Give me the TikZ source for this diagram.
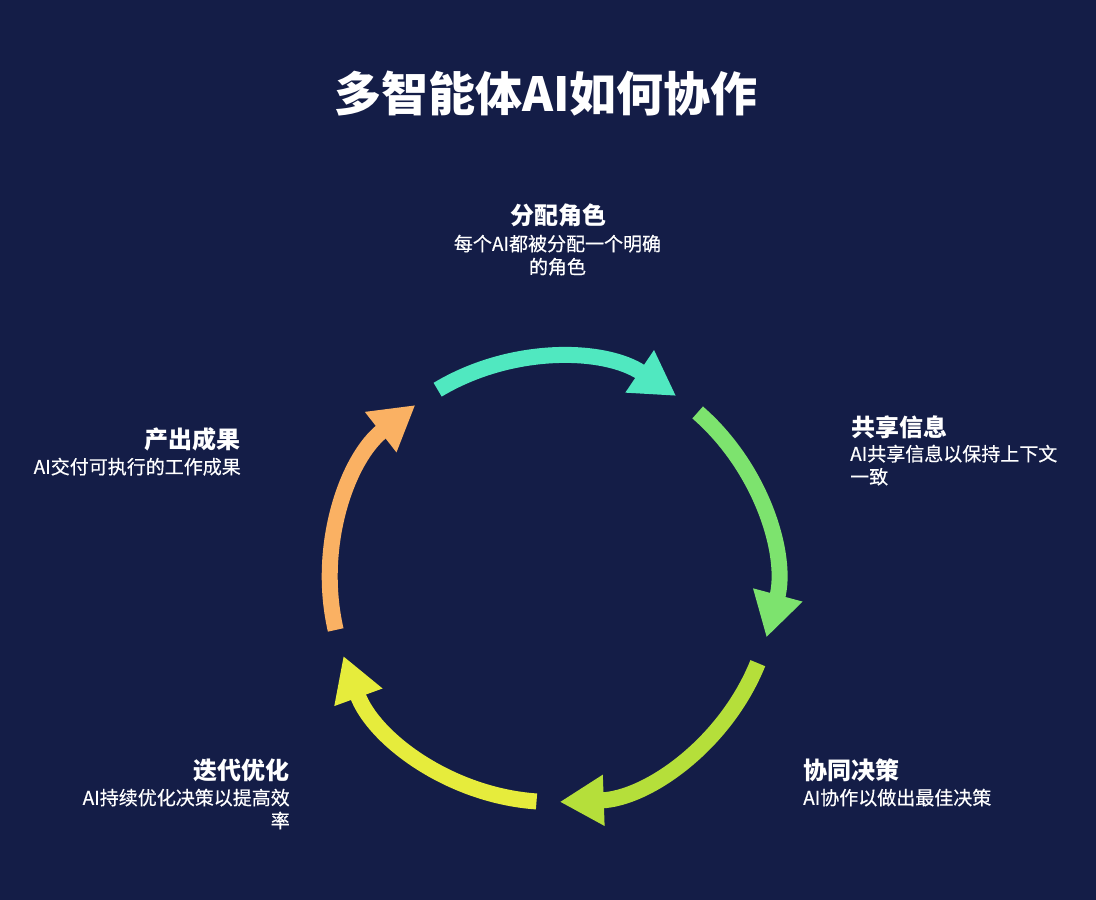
\documentclass[tikz,border=0pt]{standalone}
\usepackage{fontspec}
\setmainfont{Noto Sans CJK SC}
\newfontfamily\descfont{Noto Sans CJK SC}[FakeBold=0.5]
\usetikzlibrary{arrows.meta}
\definecolor{bg}{HTML}{141D47}
\definecolor{cmint}{HTML}{50E8C0}
\definecolor{cgreen}{HTML}{7DE36E}
\definecolor{clime}{HTML}{B5DF3A}
\definecolor{cyellow}{HTML}{E6EC3C}
\definecolor{corange}{HTML}{FAB163}
\begin{document}
\begin{tikzpicture}[x=1pt,y=1pt,
  title/.style={inner sep=0, anchor=base, text=white, font=\bfseries\fontsize{47}{52}\selectfont},
  head/.style={inner sep=0, text=white, font=\bfseries\fontsize{24}{28}\selectfont},
  desc/.style={inner sep=0, text=white, font=\descfont\fontsize{19}{23}\selectfont},
  seg/.style={line width=16pt, -{Triangle[length=44pt,width=48pt]}}]
\fill[bg] (0,0) rectangle (1096,900);
\useasboundingbox (0,0) rectangle (1096,900);
\node[title] (t) at (546,788.6) {多智能体AI如何协作};

\coordinate (c) at (552,320);
\draw[seg, cmint] ([shift={(121:222)}]c) arc[start angle=121, end angle=56, radius=222];
\draw[seg, cgreen] ([shift={(49:222)}]c) arc[start angle=49, end angle=-15, radius=222];
\draw[seg, clime] ([shift={(-22:222)}]c) arc[start angle=-22, end angle=-88, radius=222];
\draw[seg, cyellow] ([shift={(-94:222)}]c) arc[start angle=-94, end angle=-160, radius=222];
\draw[seg, corange] ([shift={(-167:222)}]c) arc[start angle=-167, end angle=-232, radius=222];

% top
\node[head, anchor=base] (h1) at (558.5,675) {分配角色};
\node[desc, anchor=north, align=center] (d1) at (557.5,665.4) {每个AI都被分配一个明确\\的角色};
% right
\node[head, anchor=base west] (h2) at (851,463) {共享信息};
\node[desc, anchor=north west, align=left] (d2) at (850,455.4) {AI共享信息以保持上下文\\一致};
% bottom right
\node[head, anchor=base west] (h3) at (803,120) {协同决策};
\node[desc, anchor=north west, align=left] (d3) at (803,111.4) {AI协作以做出最佳决策};
% bottom left
\node[head, anchor=base east] (h4) at (290,120) {迭代优化};
\node[desc, anchor=north east, align=right] (d4) at (290,111.4) {AI持续优化决策以提高效\\率};
% left
\node[head, anchor=base east] (h5) at (241,451) {产出成果};
\node[desc, anchor=north east, align=right] (d5) at (241,442.4) {AI交付可执行的工作成果};
\end{tikzpicture}
\end{document}
